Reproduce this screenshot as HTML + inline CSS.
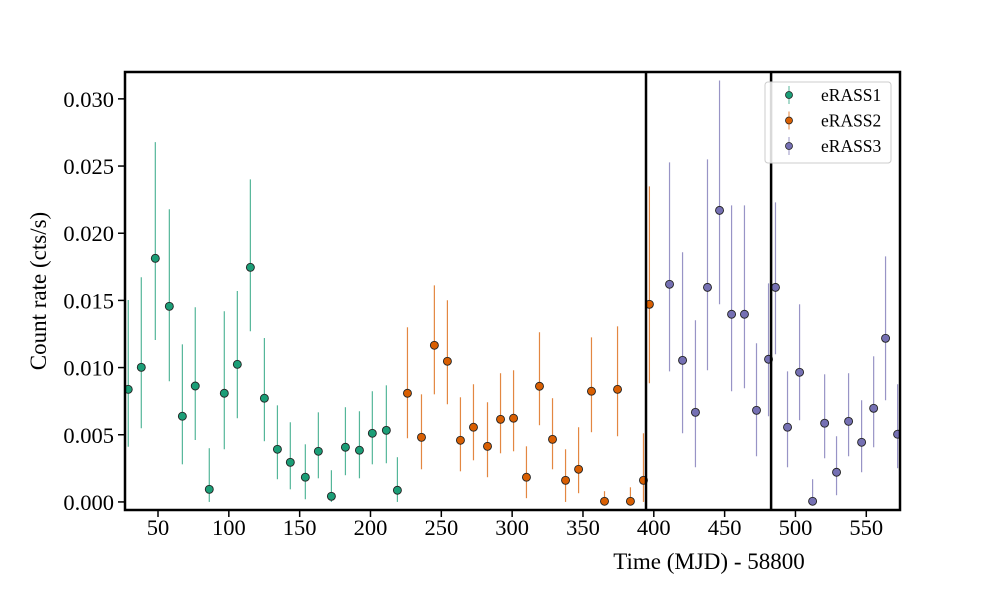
<!DOCTYPE html>
<html><head><meta charset="utf-8"><style>
body{margin:0;background:#fff}
svg{display:block;font-family:"Liberation Serif",serif}
</style></head><body>
<svg id="chart" width="1000" height="600"></svg>
<script>
const categories = ["eRASS1","eRASS2","eRASS3"];
const colors = ["#1b9e77","#d95f02","#7570b3"];
const e1x=[29.0,38.2,48.1,58.0,67.2,76.3,86.2,96.8,106.0,115.2,125.1,134.3,143.4,154.0,163.2,172.4,182.3,192.2,201.3,211.2,219.0];
const e1y=[.00838,.01002,.01813,.01456,.00638,.00863,.00094,.00809,.01024,.01746,.00772,.00392,.00295,.00184,.00377,.00042,.00407,.00385,.00511,.00533,.00087];
const e1hi=[.01503,.01672,.02678,.02178,.01173,.01449,.00400,.01419,.01570,.02401,.01220,.00719,.00593,.00429,.00667,.00236,.00705,.00675,.00824,.00868,.00333];
const e1lo=[.00411,.00548,.01205,.00898,.00280,.00461,0,.00392,.00623,.01270,.00452,.00169,.00094,.00020,.00176,0,.00199,.00176,.00280,.00288,0];
const e2x=[226.1,236.0,245.1,254.3,263.5,272.7,282.6,291.8,301.0,310.1,319.3,328.5,337.7,346.9,356.0,365.2,374.4,383.5,392.7,396.9];
const e2y=[.00809,.00481,.01166,.01047,.00459,.00556,.00414,.00615,.00623,.00184,.00861,.00466,.00161,.00243,.00824,.00005,.00838,.00005,.00161,.01471];
const e2hi=[.01300,.00801,.01612,.01501,.00779,.00876,.00742,.00958,.00980,.00414,.01263,.00772,.00392,.00556,.01225,.00080,.01307,.00109,.00511,.02349];
const e2lo=[.00474,.00243,.00801,.00727,.00228,.00310,.00184,.00362,.00377,.00028,.00571,.00243,0,.00065,.00519,0,.00489,0,0,.00883];
const e3x=[411.1,420.3,429.4,437.9,446.4,454.9,464.0,472.5,481.0,485.9,494.4,502.9,512.1,520.6,529.0,537.5,546.7,555.2,563.6,572.1];
const e3y=[.01620,.01054,.00667,.01597,.02170,.01397,.01397,.00682,.01062,.01597,.00556,.00965,.00005,.00586,.00221,.00600,.00444,.00697,.01218,.00504];
const e3hi=[.02527,.01858,.01352,.02550,.03137,.02207,.02207,.01181,.01627,.02230,.00972,.01471,.00169,.00950,.00489,.00958,.00757,.01084,.01828,.00876];
const e3lo=[.00972,.00511,.00258,.00980,.01471,.00824,.00846,.00340,.00638,.01099,.00258,.00608,0,.00325,.00050,.00340,.00221,.00407,.00757,.00251];
const xTicks=[50,100,150,200,250,300,350,400,450,500,550];
const yTicks=[0,0.005,0.010,0.015,0.020,0.025,0.030];
const yTickLabels=["0.000","0.005","0.010","0.015","0.020","0.025","0.030"];
const boundaries=[394.5,482.8];

const NS="http://www.w3.org/2000/svg";
const svg=document.getElementById('chart');
const L=125,R=900,T=72,B=510;
const X0=26.7,X1=573.8,Y0=-0.0006,Y1=0.0320;
const sx=v=>L+(v-X0)/(X1-X0)*(R-L);
const sy=v=>B-(v-Y0)/(Y1-Y0)*(B-T);
function mk(tag,attrs,parent){const e=document.createElementNS(NS,tag);for(const k in attrs)e.setAttribute(k,attrs[k]);(parent||svg).appendChild(e);return e;}

const defs=mk('defs',{});
const cp=mk('clipPath',{id:'clip'},defs);
mk('rect',{x:L,y:T,width:R-L,height:B-T},cp);

const plot=mk('g',{'clip-path':'url(#clip)'});



const series=[[e1x,e1y,e1hi,e1lo],[e2x,e2y,e2hi,e2lo],[e3x,e3y,e3hi,e3lo]];
series.forEach((s,si)=>{
  const g=mk('g',{},plot);
  
  
  s[0].forEach((xv,i)=>{
    const ln=mk('line',{x1:sx(xv),x2:sx(xv),y1:sy(s[2][i]),y2:sy(s[3][i]),stroke:colors[si],'stroke-opacity':0.75,'stroke-width':1.2},g);
    
    
  });
  s[0].forEach((xv,i)=>{
    const c=mk('circle',{cx:sx(xv),cy:sy(s[1][i]),r:4,fill:colors[si],stroke:'#222','stroke-width':0.9},g);
    
    
  });
});

boundaries.forEach(b=>{
  const l=mk('line',{x1:sx(b),x2:sx(b),y1:T,y2:B,stroke:'#000','stroke-width':2.5});
  
  
});

const frame=mk('rect',{x:L,y:T,width:R-L,height:B-T,fill:'none',stroke:'#000','stroke-width':2.5});



xTicks.forEach(t=>{
  const x=sx(t);
  const tl=mk('line',{x1:x,x2:x,y1:B,y2:B+7,stroke:'#000','stroke-width':1.5});
  
  
  const tx=mk('text',{x:x,y:B+25,'text-anchor':'middle','font-size':22.5,fill:'#000'});
  tx.textContent=t;
  
  
});
yTicks.forEach((t,i)=>{
  const y=sy(t);
  const tl=mk('line',{x1:L-7,x2:L,y1:y,y2:y,stroke:'#000','stroke-width':1.5});
  
  
  const tx=mk('text',{x:L-11,y:y+8,'text-anchor':'end','font-size':22.5,fill:'#000'});
  tx.textContent=yTickLabels[i];
  
  
});

const xt=mk('text',{x:709,y:569,'text-anchor':'middle','font-size':23,fill:'#000'});
xt.textContent='Time (MJD) - 58800';


const yt=mk('text',{x:0,y:0,'text-anchor':'middle','font-size':23,fill:'#000',transform:'translate(46,291) rotate(-90)'});
yt.textContent='Count rate (cts/s)';



const lg=mk('g',{});


mk('rect',{x:765,y:82,width:126,height:81,rx:3,fill:'#fff','fill-opacity':0.85,stroke:'#ccc','stroke-width':1},lg);
categories.forEach((c,i)=>{
  const y=95+i*25.5;
  const e=mk('g',{},lg);
  
  
  mk('line',{x1:789,x2:789,y1:y-9,y2:y+9,stroke:colors[i],'stroke-opacity':0.75,'stroke-width':1},e);
  mk('circle',{cx:789,cy:y,r:3.5,fill:colors[i],stroke:'#222','stroke-width':0.8},e);
  const t=mk('text',{x:821,y:y+6,'font-size':17.5,fill:'#000'},e);
  t.textContent=c;
});
</script>
</body></html>
